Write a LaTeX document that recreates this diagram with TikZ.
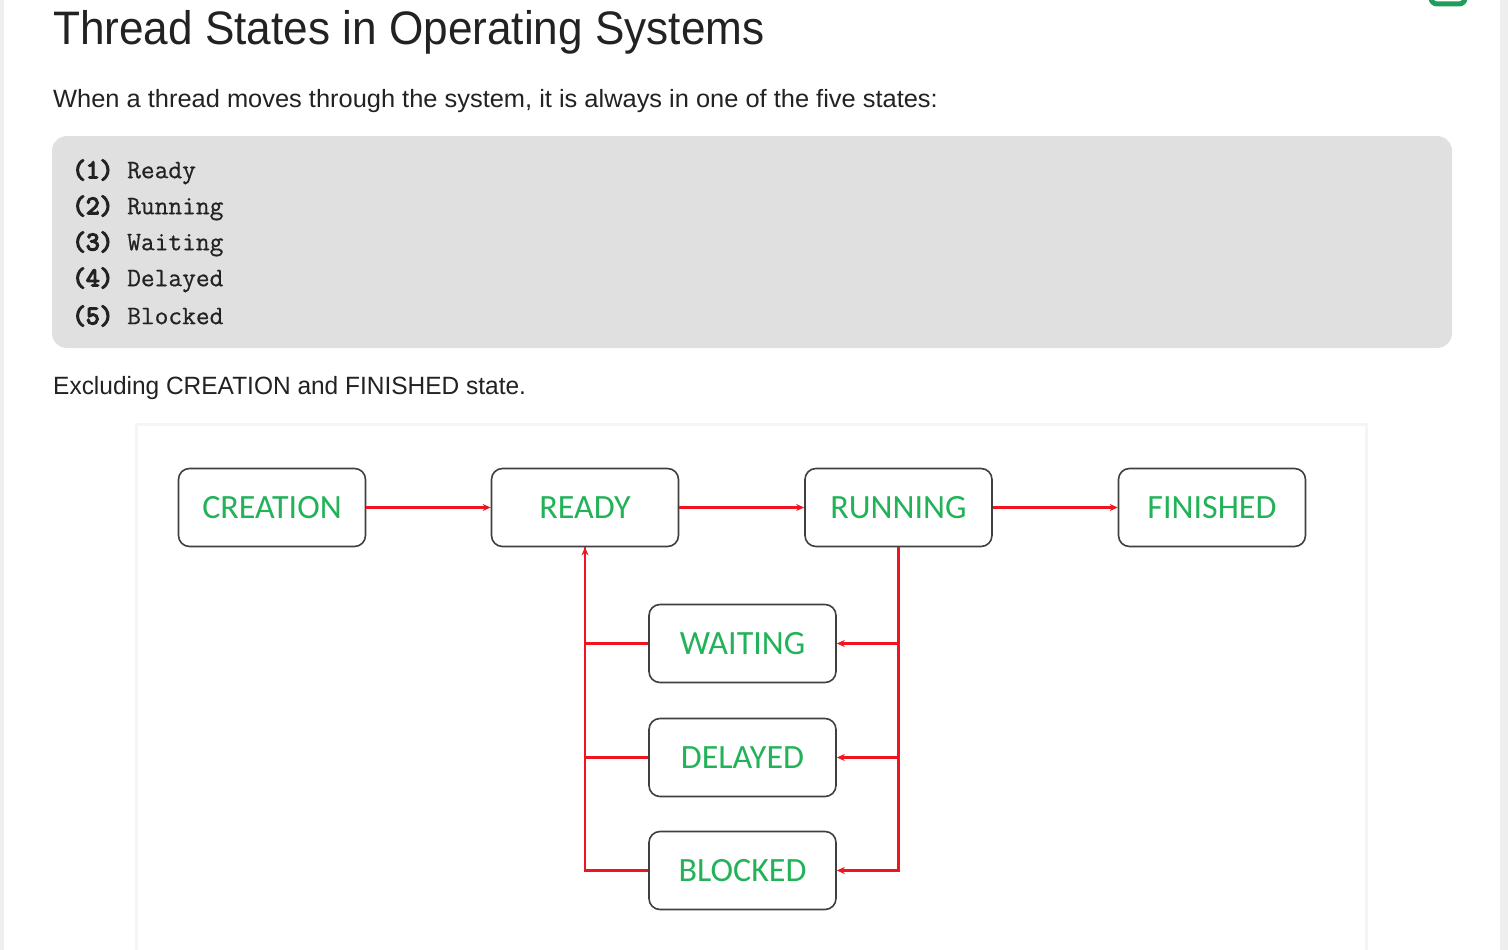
\documentclass[tikz,border=0pt]{standalone}
\usepackage{fontspec}
\setmainfont{Liberation Sans}
\newfontfamily\calib{Carlito}
\newfontfamily\codereg{Latin Modern Mono}[FakeBold=0.6]
\newfontfamily\codebold{Latin Modern Mono}[FakeBold=5]
\usetikzlibrary{arrows.meta}
\definecolor{stgreen}{RGB}{34,178,88}
\definecolor{stred}{RGB}{240,20,30}
\definecolor{codegray}{RGB}{224,224,224}
\definecolor{sidegray}{RGB}{238,238,238}
\definecolor{btngreen}{RGB}{30,158,90}
\definecolor{txt}{RGB}{34,34,34}
\newcommand{\nb}[1]{{\codebold #1}}
\tikzset{
  statebox/.style={draw=black!75, line width=1.6pt, rounded corners=11pt, fill=white,
    minimum width=187pt, minimum height=78pt, inner sep=0pt,
    font=\calib\fontsize{34}{34}\selectfont, text=stgreen},
  flow/.style={draw=stred, line width=2.4pt, -{Stealth[length=8pt,width=7pt]}},
  plain/.style={draw=stred, line width=2.4pt},
  codeline/.style={anchor=west, inner sep=0pt, font=\codereg\fontsize{26.7}{26.7}\selectfont, text=txt}
}
\begin{document}
\begin{tikzpicture}[x=1pt,y=-1pt]
\useasboundingbox (0,0) rectangle (1508,950);
\fill[white] (0,0) rectangle (1508,950);
\fill[sidegray] (0,0) rectangle (4,950);
\fill[sidegray] (1500,0) rectangle (1508,950);
\draw[btngreen, line width=5pt, rounded corners=6pt] (1431,-20) rectangle (1465,4);
% title
\node[anchor=base west, inner sep=0pt, font=\fontsize{47}{47}\selectfont, text=txt, transform shape, xscale=0.939] (title) at (53,45) {Thread States in Operating Systems};
\node[anchor=base west, inner sep=0pt, font=\fontsize{25}{25}\selectfont, text=txt, transform shape, xscale=1.017] (intro) at (53,107) {When a thread moves through the system, it is always in one of the five states:};
% code block
\fill[codegray, rounded corners=15pt] (52,136) rectangle (1452,348);
\node[codeline] (c1) at (72,172) {\nb{(1)} Ready};
\node[codeline] (c2) at (72,208) {\nb{(2)} Running};
\node[codeline] (c3) at (72,244) {\nb{(3)} Waiting};
\node[codeline] (c4) at (72,280) {\nb{(4)} Delayed};
\node[codeline] (c5) at (72,316) {\nb{(5)} Blocked};
\node[anchor=base west, inner sep=0pt, font=\fontsize{25}{25}\selectfont, text=txt, transform shape, xscale=0.979] (excl) at (53,394) {Excluding CREATION and FINISHED state.};
% diagram panel
\fill[black!4] (135,423) rectangle (1368,950);
\fill[white] (138,426) rectangle (1365,950);
% boxes
\node[statebox] (creation) at (272,507.5) {CREATION};
\node[statebox] (ready) at (585,507.5) {READY};
\node[statebox] (running) at (898.5,507.5) {RUNNING};
\node[statebox] (finished) at (1212,507.5) {FINISHED};
\node[statebox] (waiting) at (742.5,643.5) {WAITING};
\node[statebox] (delayed) at (742.5,757.5) {DELAYED};
\node[statebox] (blocked) at (742.5,870.5) {BLOCKED};
% connectors
\draw[flow] (creation) -- (ready);
\draw[flow] (ready) -- (running);
\draw[flow] (running) -- (finished);
\draw[flow] (running.south) |- (waiting.east);
\draw[flow] (running.south) |- (delayed.east);
\draw[flow] (running.south) |- (blocked.east);
\draw[plain] (waiting.west) -| (ready.south);
\draw[plain] (delayed.west) -| (ready.south);
\draw[flow] (blocked.west) -| (ready.south);
\end{tikzpicture}
\end{document}
